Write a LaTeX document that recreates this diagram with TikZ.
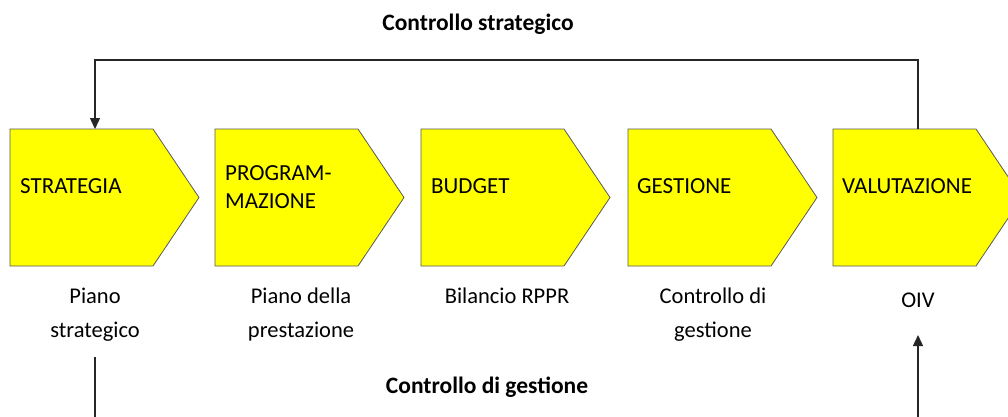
\documentclass[tikz,border=0pt]{standalone}
\usepackage{fontspec}
\setmainfont{Carlito}
\usetikzlibrary{arrows.meta,calc}
\definecolor{ylw}{RGB}{255,255,0}
\begin{document}
\begin{tikzpicture}[x=1pt,y=-1pt,
  cbox/.style={rectangle, minimum width=189pt, minimum height=137pt, inner sep=0pt, outer sep=0pt},
  chevfill/.style={draw=black!65, fill=ylw, line width=0.8pt, line join=miter},
  boxtxt/.style={font=\fontsize{23}{28}\selectfont, anchor=base west, inner sep=0pt, align=left},
  lbl/.style={font=\fontsize{22.5}{34}\selectfont, align=center, inner sep=0pt, anchor=base},
  ttl/.style={font=\fontsize{23.5}{26}\selectfont\bfseries, inner sep=0pt, anchor=base},
  conn/.style={draw=black!85, line width=1.3pt},
  arr/.style={conn, -{Triangle[length=11pt,width=10pt]}}]
\useasboundingbox (0,0) rectangle (1008,416);
\begin{scope}
\clip (0,0) rectangle (1008,416);
\foreach \n/\x in {s1/104.5, s2/309.5, s3/515.5, s4/722.5, s5/927.5}{
  \node[cbox] (\n) at (\x,197.5) {};
  \path[chevfill] (\n.north west) -- ($(\n.north west)+(143,0)$) -- (\n.east)
    -- ($(\n.south west)+(143,0)$) -- (\n.south west) -- cycle;
}

\node[boxtxt] (t1) at (20,193) {STRATEGIA};
\node[boxtxt] (t2) at (225,208) {PROGRAM-\\MAZIONE};
\node[boxtxt] (t3) at (431,193) {BUDGET};
\node[boxtxt] (t4) at (637,193) {GESTIONE};
\node[boxtxt] (t5) at (842,193) {VALUTAZIONE};

\node[lbl] (l1) at (95,337) {Piano\\strategico};
\node[lbl] (l2) at (301,337) {Piano della\\prestazione};
\node[lbl] (l3) at (507,303) {Bilancio RPPR};
\node[lbl] (l4) at (713,337) {Controllo di\\gestione};
\node[lbl] (l5) at (918,307) {OIV};

\node[ttl] (top) at (478,30) {Controllo strategico};
\node[ttl] (bot) at (487,393) {Controllo di gestione};

\draw[arr] (l5 |- s5.north) -- ++(0,-69) -| (l1 |- s1.north);

\coordinate (b1) at (95,357);
\coordinate (b5) at (918,335);
\draw[arr] (b1) -- ++(0,80) -| (b5);
\end{scope}
\end{tikzpicture}
\end{document}
